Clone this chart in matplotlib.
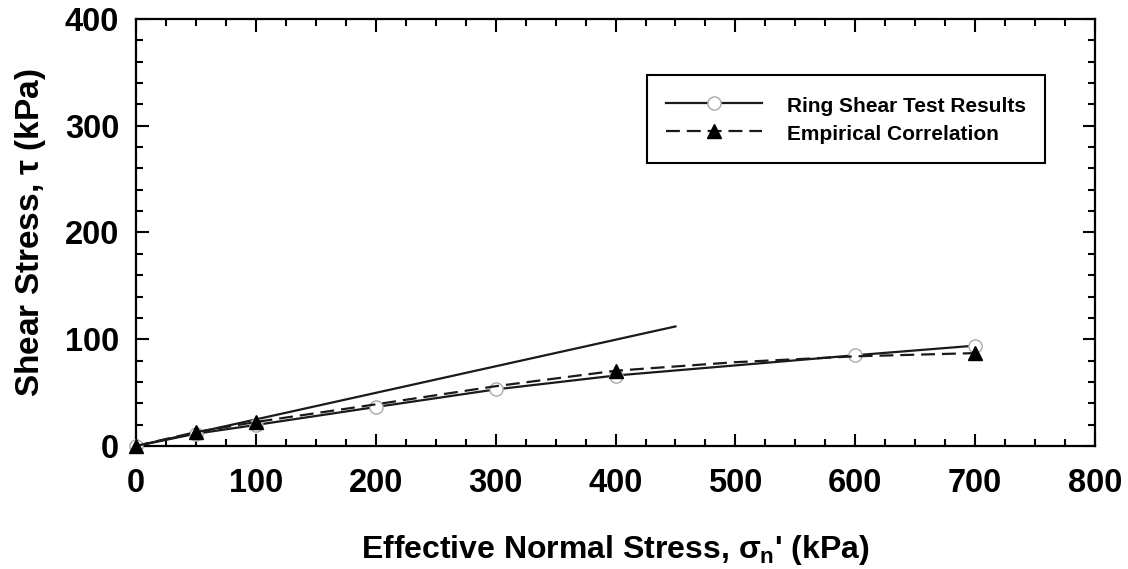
import matplotlib
matplotlib.use("Agg")
import matplotlib.pyplot as plt
from matplotlib.ticker import MultipleLocator

plt.rcParams['font.family'] = ['Liberation Sans', 'DejaVu Sans']
plt.rcParams['font.weight'] = 'bold'
plt.rcParams['mathtext.fontset'] = 'custom'
plt.rcParams['mathtext.rm'] = 'Liberation Sans:bold'
plt.rcParams['mathtext.it'] = 'Liberation Sans'
plt.rcParams['mathtext.bf'] = 'Liberation Sans:bold'
plt.rcParams['lines.scale_dashes'] = False

# Data
ring_x = [0, 50, 100, 200, 300, 400, 600, 700]
ring_y = [0, 11.5, 19.7, 36.5, 53, 66, 85, 94]
emp_x = [0, 50, 100, 200, 300, 400, 500, 600, 700]
emp_y = [0, 13, 22.5, 39, 56, 70.5, 78.5, 84, 87]
emp_marker_idx = [0, 1, 2, 5, 8]
line_x = [0, 450]
line_y = [0, 112]

fig = plt.figure(figsize=(11.28, 5.69), dpi=100)
ax = fig.add_axes([0.1206, 0.2162, 0.8502, 0.7504])

ax.plot(line_x, line_y, color='#1a1a1a', lw=1.6, zorder=2)
ax.plot(ring_x, ring_y, color='#1a1a1a', lw=1.6, marker='o', ms=9.5,
        mfc='white', mec='#aaaaaa', mew=1.0, label='Ring Shear Test Results',
        zorder=3, clip_on=False)
ax.plot(emp_x, emp_y, color='#1a1a1a', lw=1.6, dashes=(10, 5), marker='^', ms=10,
        mfc='black', mec='black', markevery=emp_marker_idx,
        label='Empirical Correlation', zorder=4, clip_on=False)

ax.set_xlim(0, 800)
ax.set_ylim(0, 400)
ax.xaxis.set_major_locator(MultipleLocator(100))
ax.xaxis.set_minor_locator(MultipleLocator(25))
ax.yaxis.set_major_locator(MultipleLocator(100))
ax.yaxis.set_minor_locator(MultipleLocator(20))
ax.tick_params(which='both', direction='in', top=True, right=True, width=1.5)
ax.tick_params(which='major', length=9)
ax.tick_params(which='minor', length=5)
ax.tick_params(axis='x', which='major', labelsize=23.5, pad=16)
ax.tick_params(axis='y', which='major', labelsize=23.5, pad=12)
for lab in ax.get_xticklabels() + ax.get_yticklabels():
    lab.set_fontweight('bold')
for s in ax.spines.values():
    s.set_linewidth(1.6)

ax.set_xlabel(r"Effective Normal Stress, $\mathit{\sigma}_{\mathbf{n}}$' (kPa)", fontsize=23,
              fontweight='bold', labelpad=24)
ax.set_ylabel(r"Shear Stress, $\mathit{\tau}$ (kPa)", fontsize=24, fontweight='bold', labelpad=12)

leg = ax.legend(loc='upper left', bbox_to_anchor=(0.533, 0.869), fontsize=15,
                frameon=True, fancybox=False, edgecolor='black', framealpha=1,
                handlelength=4.6, handleheight=1.35, borderpad=0.9, labelspacing=0.2,
                handletextpad=1.2, borderaxespad=0)
leg.get_frame().set_linewidth(1.5)
for t in leg.get_texts():
    t.set_fontweight('bold')

fig.savefig('out.png', dpi=100)
